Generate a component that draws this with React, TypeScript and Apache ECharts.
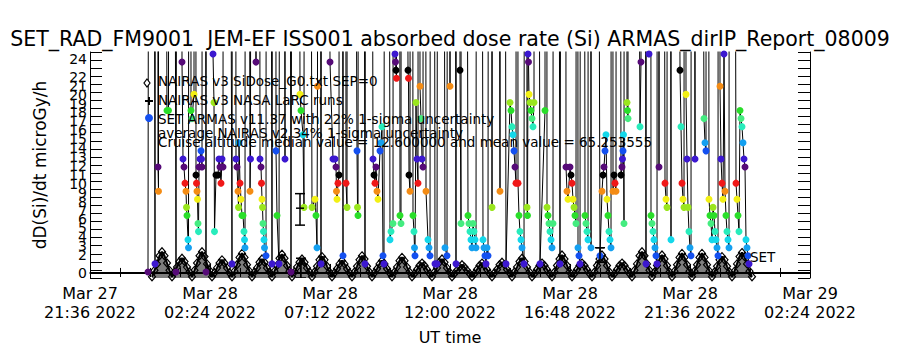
import React, { useEffect, useRef } from "react";
import * as echarts from "echarts";

const chartTitle = "SET_RAD_FM9001  JEM-EF ISS001 absorbed dose rate (Si) ARMAS_dirIP_Report_08009";
const yAxisTitle = "dD(Si)/dt microGy/h";
const xAxisTitle = "UT time";
// hours after Mar 27 21:36 UT
const xTickLabels = [
  "Mar 27\n21:36 2022",
  "Mar 28\n02:24 2022",
  "Mar 28\n07:12 2022",
  "Mar 28\n12:00 2022",
  "Mar 28\n16:48 2022",
  "Mar 28\n21:36 2022",
  "Mar 29\n02:24 2022",
];
const yTickValues = [0, 1, 2, 3, 4, 5, 6, 7, 8, 9, 10, 11, 12, 13, 14, 15, 16, 17, 18, 19, 20, 21, 22, 23, 24];
const legendLines = [
  "NAIRAS v3 SiDose_G0.txt SEP=0",
  "NAIRAS v3 NASA LaRC runs",
  "SET ARMAS v11.37 with 22% 1-sigma uncertainty",
  "average NAIRAS v2 34% 1-sigma uncertainty",
  "Cruise altitude median value = 12.600000 and mean value = 65.253555",
];
const setLabel = "SET";
const levelColors = [
  "#560a78", "#3c18d0", "#1450f0", "#14a0f0", "#14d8ea", "#28ecbc", "#44ec80",
  "#2ade2a", "#9ae61e", "#f2f014", "#f48c14", "#f01818", "#000000",
];

// NAIRAS v3 SiDose model, sampled every 0.1 h from 2.48 h
const nairasStartHour = 2.48;
const nairasStepHour = 0.1;
const nairasDose = [
  -0.6, 0.2, 1.0, 2.0, 2.5, 2.0, 1.1, 0.2,
  -0.6, 0.0, 0.6, 1.3, 1.7, 1.3, 0.6, 0.0,
  -0.6, 0.2, 1.1, 2.0, 2.5, 1.9, 1.0, 0.2,
  -0.6, -0.1, 0.5, 1.1, 1.5, 1.1, 0.5, -0.1,
  -0.6, 0.1, 0.9, 1.8, 2.3, 1.8, 0.9, 0.1,
  -0.6, 0.0, 0.5, 1.2, 1.6, 1.2, 0.5, 0.0,
  -0.6, 0.1, 0.8, 1.7, 2.2, 1.7, 0.8, 0.1,
  -0.6, 0.0, 0.6, 1.2, 1.6, 1.2, 0.5, 0.0,
  -0.6, 0.0, 0.7, 1.5, 1.9, 1.5, 0.7, 0.0,
  -0.6, -0.1, 0.4, 1.0, 1.4, 1.0, 0.4, -0.1,
  -0.6, 0.0, 0.7, 1.5, 2.0, 1.6, 0.7, 0.0,
  -0.6, -0.1, 0.4, 1.0, 1.4, 1.0, 0.4, -0.1,
  -0.6, 0.0, 0.6, 1.4, 1.8, 1.4, 0.6, 0.0,
  -0.6, -0.2, 0.3, 0.8, 1.1, 0.8, 0.3, -0.2,
  -0.6, 0.0, 0.5, 1.2, 1.6, 1.2, 0.5, 0.0,
  -0.6, -0.2, 0.2, 0.6, 0.9, 0.6, 0.2, -0.2,
  -0.6, -0.2, 0.3, 0.8, 1.1, 0.8, 0.3, -0.2,
  -0.6, -0.1, 0.3, 0.9, 1.2, 0.9, 0.3, -0.1,
  -0.6, 0.0, 0.6, 1.3, 1.7, 1.3, 0.6, 0.0,
  -0.6, -0.2, 0.3, 0.8, 1.1, 0.8, 0.3, -0.2,
  -0.6, 0.0, 0.8, 1.6, 2.1, 1.6, 0.8, 0.0,
  -0.6, -0.2, 0.3, 0.8, 1.1, 0.8, 0.3, -0.2,
  -0.6, 0.0, 0.8, 1.6, 2.1, 1.6, 0.8, 0.0,
  -0.6, -0.2, 0.3, 0.8, 1.1, 0.8, 0.3, -0.2,
  -0.6, 0.2, 1.0, 2.0, 2.5, 2.0, 1.0, 0.2,
  -0.6, 0.0, 0.8, 1.6, 2.1, 1.6, 0.8, 0.0,
  -0.6, 0.1, 0.9, 1.8, 2.3, 1.8, 0.9, 0.1,
  -0.6, 0.1, 0.9, 1.8, 2.3, 1.8, 0.9, 0.1,
  -0.6, 0.0, 0.7, 1.5, 1.9, 1.5, 0.7, 0.0,
  -0.6, 0.1, 1.0, 1.9, 2.4, 1.9, 1.0, 0.1,
  -0.6,
];

// SET ARMAS readings: [hour, dose]; H = far above the plotted range
const H = 300;
const armasReadings: [number, number][] = [
  [2.32, 0], [2.44, H], [2.60, 1], [2.68, H], [2.72, 13], [2.74, 10], [2.76, H], [3.08, 20], [3.14, 20], [3.20, H], [3.44, 0],
  [3.60, H], [3.68, 26], [3.72, 14], [3.76, 13], [3.80, 11], [3.84, 10], [3.86, 8], [3.88, 7], [3.92, 4], [3.94, 3], [4.00, H],
  [4.04, 20], [4.08, 19], [4.16, 22], [4.20, H], [4.24, 12], [4.26, 11], [4.28, 10], [4.30, 9], [4.32, 6], [4.34, 5], [4.36, 13],
  [4.40, 14], [4.44, 15], [4.46, 14], [4.48, 13], [4.52, H],
  [4.64, 0], [4.72, H], [4.92, 27], [4.96, 21], [4.98, 5], [5.04, 12], [5.12, 12], [5.16, 14], [5.20, 13], [5.24, 11], [5.28, 14], [5.32, 13], [5.36, H],
  [5.68, 1], [5.76, H], [5.84, 14], [5.88, 13], [5.92, 10], [5.94, 8], [5.96, 16], [6.00, 11], [6.04, 9], [6.08, 7], [6.12, 7], [6.16, 5], [6.18, 4], [6.20, 3], [6.24, H],
  [6.40, 10], [6.42, 14], [6.48, H], [6.64, 26], [6.72, H], [6.80, 14], [6.84, 13], [6.86, 11], [6.88, 9], [6.90, 8], [6.92, 6], [6.94, 5], [6.96, 4], [6.98, 3], [7.04, 2], [7.08, H],
  [7.28, 1], [7.40, H], [7.44, 15], [7.48, 7], [7.56, 1], [7.68, H], [7.80, 14], [7.84, H], [8.04, 0],
  [8.24, H], [8.40, 22], [8.44, 20], [8.52, 17], [8.56, 8], [8.60, H], [8.88, 8], [9.00, 9], [9.04, 7], [9.08, 3], [9.10, 23], [9.12, H], [9.24, 1],
  [9.36, H], [9.60, 26], [9.72, 14], [9.80, 14], [9.84, 13], [9.86, 10], [9.88, 9], [9.92, 11], [9.96, 12], [10.00, H], [10.12, 2], [10.20, H], [10.24, 11], [10.28, 8], [10.32, H],
  [10.68, 15], [10.70, 8], [10.72, 7], [10.80, H], [11.00, 1], [11.12, H],
  [11.32, 14], [11.36, 12], [11.40, 11], [11.44, 13], [11.48, 10], [11.52, 9], [11.60, 15], [11.64, 16], [11.68, 18], [11.72, 2], [11.76, 1], [11.84, H],
  [12.00, 4], [12.04, 5], [12.12, 6], [12.16, H], [12.20, 27], [12.22, 26], [12.24, 25], [12.26, 24], [12.32, H],
  [12.40, 7], [12.44, 6], [12.48, H], [12.72, 25], [12.74, 24], [12.76, 12], [12.80, 10], [12.84, H],
  [12.92, 7], [12.96, 5], [12.98, 3], [13.00, 2], [13.04, 21], [13.08, 14], [13.12, 11], [13.16, H],
  [13.20, 23], [13.24, 19], [13.28, 14], [13.32, 13], [13.36, H],
  [13.44, 10], [13.52, 4], [13.56, 3], [13.60, 2], [13.68, H], [13.80, 1], [13.88, 1], [14.00, H],
  [14.20, 3], [14.28, 2], [14.36, H], [14.40, 23], [14.48, H], [14.64, 1], [14.72, H], [14.80, 25], [14.84, 6], [14.88, H],
  [15.12, 7], [15.16, 6], [15.20, 5], [15.24, 4], [15.28, 3], [15.32, 6], [15.36, 5], [15.40, 4], [15.44, 3], [15.52, H],
  [15.72, 4], [15.76, 3], [15.80, 2], [15.84, 1], [15.88, 3], [15.92, 2], [16.00, H], [16.08, 8], [16.20, H], [16.40, 10], [16.48, H],
  [16.64, 1], [16.80, 21], [16.84, 20], [16.88, 18], [16.92, 17], [16.96, 15], [17.00, 13], [17.04, 11], [17.08, H],
  [17.12, 11], [17.16, 7], [17.20, 5], [17.24, 4], [17.28, 3], [17.36, 1], [17.44, H],
  [17.48, 8], [17.50, 7], [17.52, 27], [17.54, 26], [17.56, 22], [17.60, 21], [17.64, 20], [17.68, 19], [17.72, 18], [17.76, 21], [17.80, H],
  [18.00, 1], [18.20, 20], [18.24, H], [18.28, 8], [18.32, 7], [18.36, 6], [18.40, 5], [18.44, 4], [18.48, 3], [18.52, 6], [18.56, H],
  [18.80, 1], [19.00, H], [19.04, 13], [19.08, 10], [19.12, 9], [19.20, 13], [19.24, 12], [19.28, 11], [19.32, 9], [19.36, 8], [19.40, 7], [19.44, 6], [19.48, H],
  [19.52, 3], [19.56, 2], [19.60, 1], [19.68, H], [19.80, 7], [19.84, 6], [19.88, 5], [19.92, 4], [19.96, H], [20.04, 3], [20.12, H],
  [20.40, 2], [20.48, 10], [20.52, 12], [20.56, 13], [20.60, 15], [20.64, 17], [20.68, 9], [20.72, 7], [20.76, 5], [20.80, 4], [20.84, 3], [20.88, H],
  [20.92, 10], [20.96, 12], [21.00, 11], [21.04, 10], [21.08, H],
  [21.24, 12], [21.28, 13], [21.30, 14], [21.32, 15], [21.34, 17], [21.36, 6], [21.40, H],
  [21.48, 21], [21.50, 20], [21.52, 19], [21.56, H],
  [22.00, 18], [22.04, 26], [22.08, H], [22.24, 1], [22.32, H], [22.36, 27], [22.40, H],
  [22.44, 7], [22.48, 6], [22.52, 5], [22.56, 4], [22.60, 3], [22.64, 2], [22.68, 1], [22.72, H], [22.76, 13], [22.80, H],
  [23.00, 11], [23.04, 9], [23.08, 8], [23.12, H], [23.24, 4], [23.28, H],
  [23.60, 25], [23.64, 18], [23.68, 11], [23.72, 9], [23.76, 8], [23.80, H],
  [23.84, 22], [23.88, 14], [23.92, 8], [23.96, 5], [24.00, 3], [24.04, 2], [24.08, H],
  [24.20, 14], [24.24, H], [24.56, 19], [24.60, 16], [24.64, 15], [24.68, H],
  [24.76, 9], [24.80, 7], [24.84, 6], [24.88, 4], [24.92, 8], [24.96, 7], [25.00, 5], [25.04, 4], [25.08, 3], [25.12, 2], [25.16, H],
  [25.20, 23], [25.24, 14], [25.28, 11], [25.32, 9], [25.36, 27], [25.40, 10], [25.44, 7], [25.48, 5], [25.52, 4], [25.56, 3], [25.60, H],
  [25.84, 11], [25.88, 9], [25.92, 7], [25.96, 5], [26.00, 20], [26.04, 19], [26.08, 18], [26.12, 16], [26.16, 14], [26.20, 13],
  [26.24, 4], [26.28, 3], [26.32, 2], [26.36, 1],
];

// NAIRAS v3 NASA LaRC runs with uncertainty
const larcHour = [8.4, 8.44, 20.4];
const larcDose = [7.9, 1.0, 3.0];
const larcLow = [5.8, -0.75, 1.2];
const larcHigh = [9.7, 1.7, 3.0];

export default function App() {
  const ref = useRef<HTMLDivElement>(null);
  useEffect(() => {
    document.body.style.margin = "0";
    const chart = echarts.init(ref.current!, null, { renderer: "svg" });
    const font = "DejaVu Sans";
    const nairasData = nairasDose.map((v, i) => [nairasStartHour + i * nairasStepHour, v]);
    const armasData = armasReadings.map(([h, d]) => ({
      value: [h, d],
      itemStyle: { color: levelColors[((Math.floor(d) % 13) + 13) % 13] },
    }));
    const larcData = larcHour.map((h, i) => [h, larcDose[i], larcLow[i], larcHigh[i]]);
    const black = { color: "#000", width: 1 };

    const legendText = (i: number, y: number) => ({
      type: "text",
      x: 158,
      y,
      style: { text: legendLines[i], fontFamily: font, fontSize: 13.5, fill: "#000", verticalAlign: "middle" },
      z: 100,
    });

    chart.setOption({
      animation: false,
      backgroundColor: "#fff",
      textStyle: { fontFamily: font, color: "#000" },
      title: {
        text: chartTitle,
        left: "center",
        top: 23,
        textStyle: { fontFamily: font, fontSize: 20.5, fontWeight: "normal", color: "#000" },
      },
      grid: { left: 90, right: 90, top: 52, bottom: 72, containLabel: false },
      xAxis: [
        {
          type: "value",
          min: 0,
          max: 28.8,
          interval: 4.8,
          position: "bottom",
          axisLine: { lineStyle: black },
          axisTick: { inside: true, length: 8, lineStyle: black },
          minorTick: { show: true, splitNumber: 4, length: 4, lineStyle: black },
          splitLine: { show: false },
          axisLabel: {
            show: true,
            margin: 6,
            fontSize: 16,
            lineHeight: 19,
            color: "#000",
            fontFamily: font,
            showMinLabel: true,
            showMaxLabel: true,
            formatter: (v: number) => xTickLabels[Math.round(v / 4.8)] ?? "",
          },
        },
        {
          type: "value",
          min: 0,
          max: 28.8,
          interval: 1.2,
          position: "top",
          axisLine: { lineStyle: black },
          axisTick: { inside: true, length: 4, lineStyle: black },
          axisLabel: { show: false },
          splitLine: { show: false },
        },
      ],
      yAxis: [
        {
          type: "value",
          min: -0.75,
          max: 27.25,
          interval: 1,
          position: "left",
          axisLine: { lineStyle: black },
          axisTick: { inside: true, length: 12, lineStyle: black },
          axisLabel: { show: false },
          splitLine: { show: false },
        },
        {
          type: "value",
          min: -0.56,
          max: 24.78,
          position: "left",
          axisLine: { show: false },
          axisTick: { show: false },
          splitLine: { show: false },
          axisLabel: {
            show: true,
            customValues: yTickValues,
            showMinLabel: true,
            showMaxLabel: true,
            hideOverlap: false,
            margin: 3,
            fontSize: 14,
            color: "#000",
            fontFamily: font,
          },
        },
        {
          type: "value",
          min: -0.75,
          max: 27.25,
          interval: 1,
          position: "right",
          axisLine: { lineStyle: black },
          axisTick: { inside: true, length: 12, lineStyle: black },
          axisLabel: { show: false },
          splitLine: { show: false },
        },
      ],
      series: [
        {
          name: legendLines[0],
          type: "line",
          xAxisIndex: 0,
          yAxisIndex: 0,
          data: nairasData,
          symbol: "diamond",
          symbolSize: [7, 8],
          showSymbol: true,
          showAllSymbol: true,
          itemStyle: { color: "rgba(0,0,0,0)", borderColor: "#000", borderWidth: 1.2 },
          lineStyle: { color: "#000", width: 2 },
          areaStyle: { color: "rgba(0,0,0,0.72)", origin: "start" },
          clip: true,
          silent: true,
          z: 2,
        },
        {
          name: legendLines[2],
          type: "line",
          xAxisIndex: 0,
          yAxisIndex: 0,
          data: armasData,
          symbol: "circle",
          symbolSize: 7,
          showSymbol: true,
          showAllSymbol: true,
          lineStyle: { color: "#000", width: 1 },
          clip: true,
          silent: true,
          z: 3,
        },
        {
          name: legendLines[1],
          type: "custom",
          xAxisIndex: 0,
          yAxisIndex: 0,
          data: larcData,
          encode: { x: 0, y: 1 },
          clip: true,
          silent: true,
          z: 4,
          renderItem: (_params: any, api: any) => {
            const c = api.coord([api.value(0), api.value(1)]);
            const lo = api.coord([api.value(0), api.value(2)]);
            const hi = api.coord([api.value(0), api.value(3)]);
            const st = { stroke: "#000", lineWidth: 1.5 };
            return {
              type: "group",
              children: [
                { type: "line", shape: { x1: c[0], y1: lo[1], x2: c[0], y2: hi[1] }, style: st },
                { type: "line", shape: { x1: c[0] - 5, y1: hi[1], x2: c[0] + 5, y2: hi[1] }, style: st },
                { type: "line", shape: { x1: c[0] - 5, y1: lo[1], x2: c[0] + 5, y2: lo[1] }, style: st },
                { type: "line", shape: { x1: c[0] - 4, y1: c[1], x2: c[0] + 4, y2: c[1] }, style: st },
              ],
            };
          },
        },
      ],
      graphic: [
        {
          type: "polygon",
          shape: { points: [[147, 79], [150, 83], [147, 87], [144, 83]] },
          style: { fill: "#fff", stroke: "#000", lineWidth: 1.2 },
          z: 100,
        },
        { type: "line", shape: { x1: 145, y1: 101, x2: 153, y2: 101 }, style: { stroke: "#000", lineWidth: 2 }, z: 100 },
        { type: "line", shape: { x1: 149, y1: 97, x2: 149, y2: 105 }, style: { stroke: "#000", lineWidth: 2 }, z: 100 },
        { type: "circle", shape: { cx: 149, cy: 118, r: 4 }, style: { fill: levelColors[2] }, z: 100 },
        legendText(0, 81),
        legendText(1, 100),
        legendText(2, 119),
        legendText(3, 133),
        legendText(4, 142),
        {
          type: "text",
          x: 750,
          y: 257,
          style: { text: setLabel, fontFamily: font, fontSize: 13.5, fill: "#000", verticalAlign: "middle" },
          z: 100,
        },
        {
          type: "text",
          x: 40,
          y: 165,
          rotation: Math.PI / 2,
          style: { text: yAxisTitle, fontFamily: font, fontSize: 17, fill: "#000", align: "center", verticalAlign: "middle" },
        },
        {
          type: "text",
          x: 450,
          y: 337,
          style: { text: xAxisTitle, fontFamily: font, fontSize: 16, fill: "#000", align: "center", verticalAlign: "middle" },
        },
      ],
    });
    return () => chart.dispose();
  }, []);
  return <div ref={ref} style={{ width: 900, height: 350 }} />;
}
